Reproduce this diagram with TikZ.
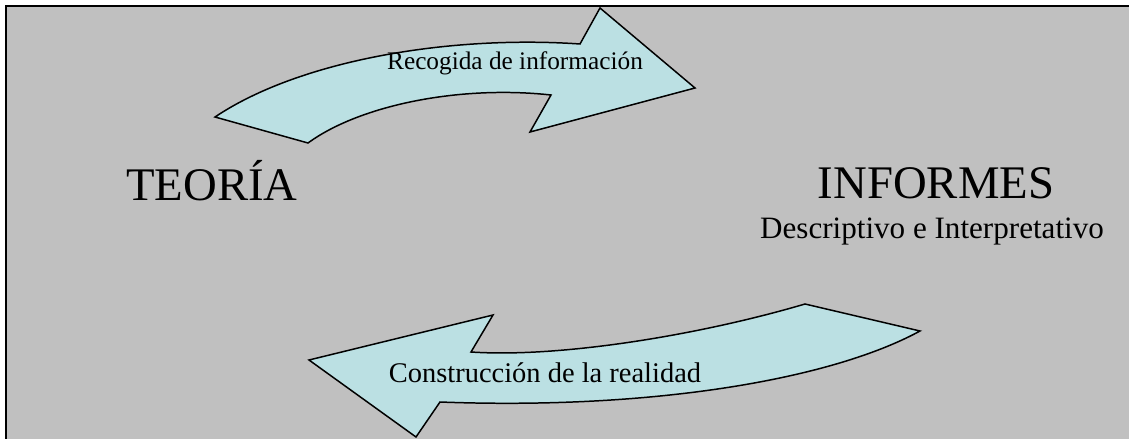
\documentclass[tikz,border=0pt]{standalone}
\usepackage{fontspec}
\setmainfont{Liberation Serif}
\definecolor{fondo}{RGB}{192,192,192}
\definecolor{flecha}{RGB}{187,224,227}

\begin{document}
\begin{tikzpicture}[x=0.02cm,y=-0.02cm,
		flechaarco/.style={fill=flecha,draw=black,line width=0.85pt,line join=miter},
		titulo/.style={anchor=base,inner sep=0pt,font=\fontsize{26.6}{30}\selectfont},
		rotulo/.style={anchor=base,inner sep=0pt}]
		\useasboundingbox (0,0) rectangle (1129,439);
		%Hintergrund
		\fill[fondo] (6,6) rectangle (1129,439);
		\draw[line width=1.2pt] (6,439) -- (6,6) -- (1129,6);
		%Pfeile
		\draw[flechaarco] (215,117) .. controls (300,60) and (450,35) .. (580,44) -- (600,8) -- (695,88) -- (530,132) -- (551,95) .. controls (460,85) and (360,105) .. (308,143) -- cycle;
		\draw[flechaarco] (309,360) -- (493,315) -- (471,352) .. controls (560,358) and (700,335) .. (805,304) -- (920,331) .. controls (830,380) and (650,410) .. (440,402) -- (416,437) -- cycle;
		%Beschriftung
		\node[titulo] (teoria) at (212,200) {TEORÍA};
		\node[titulo] (informes) at (936,198) {INFORMES};
		\node[rotulo,font=\fontsize{17.7}{20}\selectfont] (tipos) at (932,238) {Descriptivo e Interpretativo};
		\node[rotulo,font=\fontsize{14.4}{17}\selectfont] (recogida) at (515,70) {Recogida de información};
		\node[rotulo,font=\fontsize{16.2}{19}\selectfont] (construccion) at (545,382) {Construcción de la realidad};
	\end{tikzpicture}
\end{document}
